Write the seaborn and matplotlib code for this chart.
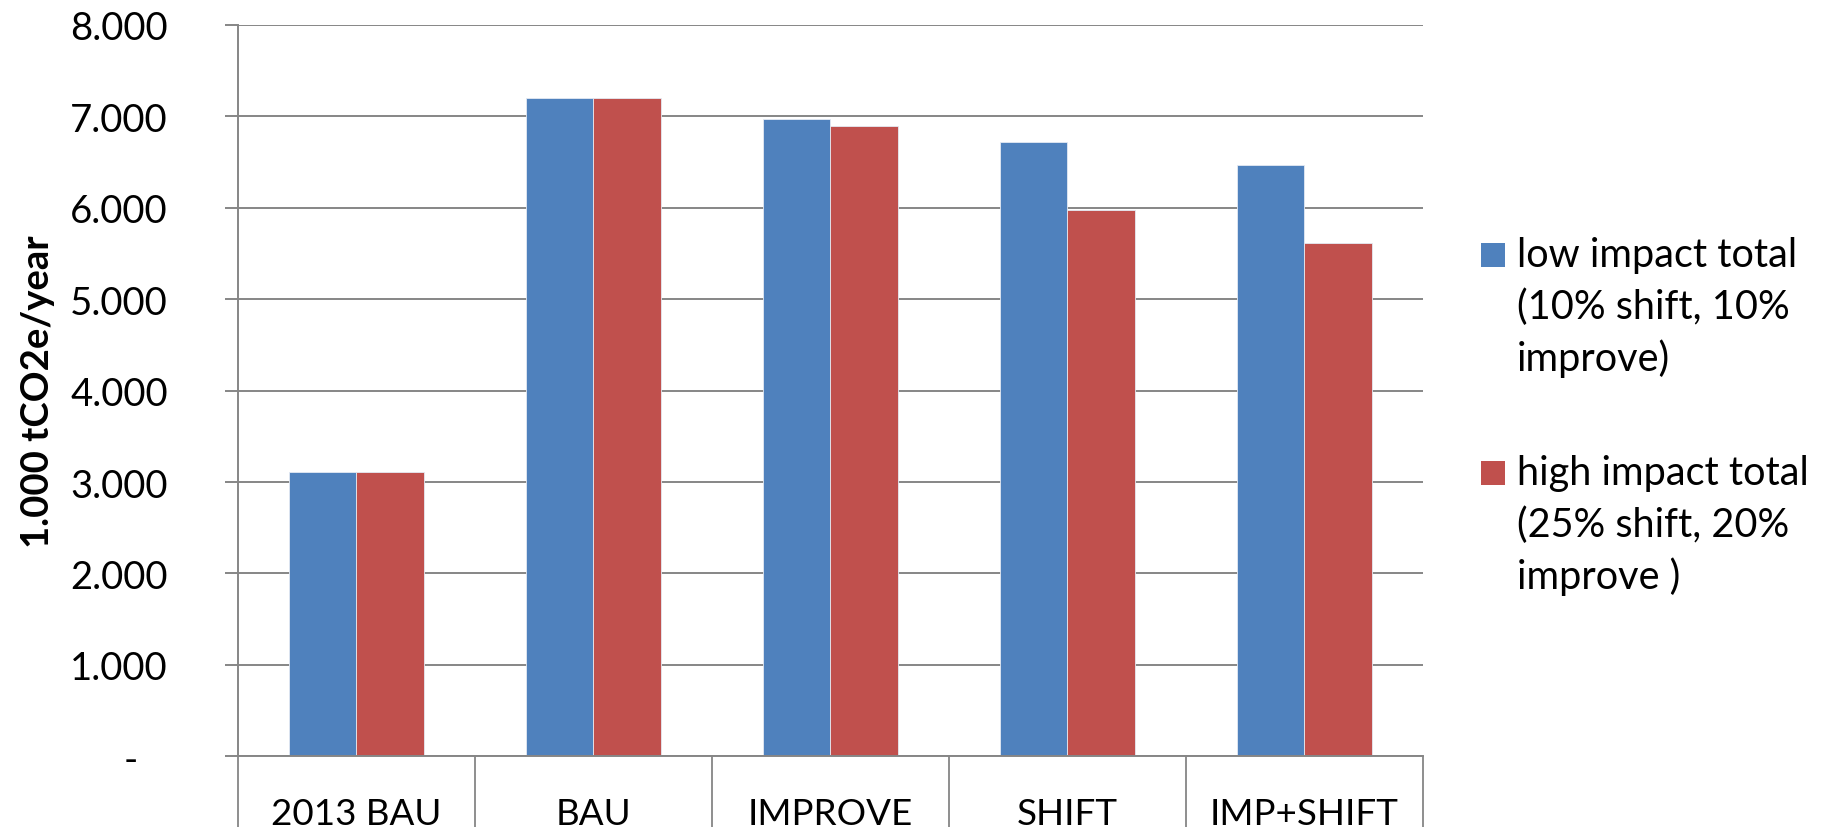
import matplotlib
matplotlib.use("Agg")
import matplotlib.pyplot as plt
from matplotlib.patches import Rectangle
from matplotlib.ticker import FixedLocator, FuncFormatter
import pandas as pd
import seaborn as sns

# Scenario totals, in 1.000 tCO2e per year
scenarios = ["2013 BAU", "BAU", "IMPROVE", "SHIFT", "IMP+SHIFT"]
low_impact = [3110, 7205, 6975, 6715, 6470]
high_impact = [3110, 7205, 6900, 5975, 5620]

series_names = [
    "low impact total (10% shift, 10% improve)",
    "high impact total (25% shift, 20% improve )",
]
legend_lines = [
    ["low impact total", "(10% shift, 10%", "improve)"],
    ["high impact total", "(25% shift, 20%", "improve )"],
]
y_ticks = [0, 1000, 2000, 3000, 4000, 5000, 6000, 7000, 8000]
y_label = "1.000 tCO2e/year"

colors = ["#4F81BD", "#C0504D"]
grid_grey = "#868686"

df = pd.DataFrame({
    "scenario": scenarios * 2,
    "value": low_impact + high_impact,
    "series": [series_names[0]] * len(scenarios) + [series_names[1]] * len(scenarios),
})

sns.set_theme(style="white")
plt.rcParams["font.family"] = ["Lato", "DejaVu Sans"]

fig = plt.figure(figsize=(18.21, 8.28), dpi=100)
ax = fig.add_axes([238 / 1821, 1 - 757.3 / 828, (1422.7 - 238) / 1821, (757.3 - 26) / 828])

sns.barplot(
    data=df, x="scenario", y="value", hue="series", order=scenarios,
    hue_order=series_names, palette=colors, saturation=1, width=0.5714,
    dodge=True, legend=False, edgecolor="#E4EAF3", linewidth=0.6, ax=ax, zorder=3,
)

ax.set_xlim(-0.5, len(scenarios) - 0.5)
ax.set_ylim(0, 8000)

# horizontal gridlines
ax.yaxis.set_major_locator(FixedLocator(y_ticks))
ax.yaxis.grid(True, color=grid_grey, linewidth=1.4, zorder=0)
ax.xaxis.grid(False)
ax.set_axisbelow(True)


def thousands(v, pos):
    if v == 0:
        return "-   "
    return f"{int(v):,}".replace(",", ".")


ax.yaxis.set_major_formatter(FuncFormatter(thousands))
ax.tick_params(axis="y", which="major", direction="out", length=9.4, width=1.4,
               color=grid_grey, pad=41, labelsize=27.5, labelcolor="black", left=True)

# category separators below the axis
ax.set_xticks([i - 0.5 for i in range(len(scenarios) + 1)], minor=True)
ax.tick_params(axis="x", which="minor", direction="out", length=60, width=1.3,
               color=grid_grey, bottom=True)
ax.tick_params(axis="x", which="major", length=0, pad=29, labelsize=26.5,
               labelcolor="black")

for side in ("top", "right"):
    ax.spines[side].set_visible(False)
for side in ("left", "bottom"):
    ax.spines[side].set_color(grid_grey)
    ax.spines[side].set_linewidth(1.4)
    ax.spines[side].set_zorder(4)

ax.set_xlabel("")
ax.set_ylabel(y_label, fontsize=27.5, fontweight="bold", color="black")
ax.yaxis.set_label_coords(-0.1545, 0.5)

# legend: coloured square aligned with the first line of each entry
W, H = 1821, 828
entry_tops = [244, 462]
baseline_gap = 52
for color, lines, top in zip(colors, legend_lines, entry_tops):
    fig.patches.append(Rectangle((1481 / W, 1 - (top + 24) / H), 24 / W, 24 / H,
                                 transform=fig.transFigure, facecolor=color,
                                 edgecolor="none"))
    first_base = top + 23
    for k, line in enumerate(lines):
        fig.text(1517 / W, 1 - (first_base + k * baseline_gap) / H, line,
                 fontsize=28.5, color="black", ha="left", va="baseline")

fig.savefig("out.png", dpi=100, facecolor="white")
